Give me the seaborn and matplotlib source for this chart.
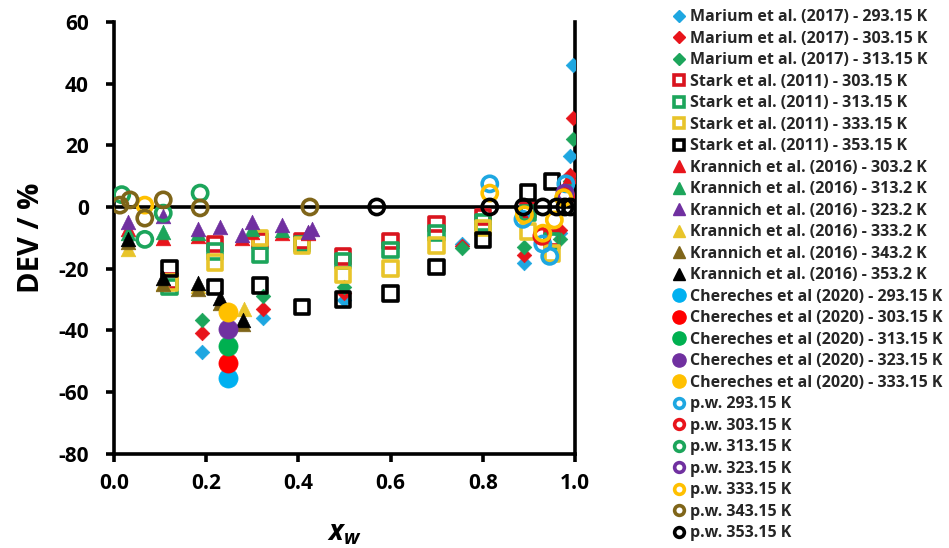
import matplotlib
matplotlib.use("Agg")
import matplotlib.pyplot as plt
from matplotlib.lines import Line2D
import seaborn as sns
import pandas as pd

# ---------------- data ----------------
# Marium et al. (2017), diamonds
marium_x = [0.19, 0.323, 0.50, 0.755, 0.89, 0.967, 0.99, 0.996]
marium_293 = [-47, -36, -30, -12, -18, -8.5, 16.5, 46]
marium_303 = [-41, -33, -28, -12.5, -15.5, -7.5, 10.5, 29]
marium_313 = [-36.5, -29, -26, -13.3, -13, -10.5, 8.5, 22]

# Stark et al. (2011), open squares
stark_x = [0.121, 0.219, 0.317, 0.408, 0.497, 0.60, 0.70, 0.80, 0.898, 0.95]
stark_303 = [-24, -12, -11, -11, -16, -11, -5.5, -3.2, -1, -10]
stark_313 = [-26, -14.5, -15.5, -12, -17.5, -14, -8.5, -5, -2, -11]
stark_333 = [-24.5, -18, -10, -12.5, -22, -20, -12.5, -6.8, -8, -15]
stark_353 = [-20, -26, -25.5, -32.4, -30, -28, -19.4, -10.7, 4.7, 8.3]

# Krannich et al. (2016), triangles
kr_303_x = [0.03, 0.107, 0.183, 0.277, 0.30, 0.364, 0.42, 0.99]
kr_303 = [-7, -10, -9.5, -10, -8, -8.5, -8.5, 10]
kr_313_x = [0.03, 0.107, 0.183, 0.30, 0.364]
kr_313 = [-8.5, -8, -8.5, -7, -7.5]
kr_323_x = [0.03, 0.107, 0.183, 0.23, 0.277, 0.30, 0.364, 0.42, 0.43]
kr_323 = [-5, -3, -7, -6.5, -9, -4.8, -5.8, -8, -7]
kr_333_x = [0.03, 0.107, 0.183, 0.283]
kr_333 = [-13.5, -24.5, -25.5, -33]
kr_343_x = [0.03, 0.107, 0.183, 0.23, 0.28]
kr_343 = [-11.5, -25, -26.5, -31, -38]
kr_353_x = [0.03, 0.107, 0.183, 0.23, 0.28]
kr_353 = [-10.5, -23, -24.5, -29.5, -36.5]

# Chereches et al. (2020), filled circles
ch_x = [0.247]
ch_293 = [-55.5]
ch_303 = [-50.5]
ch_313 = [-45]
ch_323 = [-39.5]
ch_333 = [-34]

# present work, open circles
pw_293_x = [0.815, 0.887, 0.93, 0.945, 0.98]
pw_293 = [7.5, -4, -12, -16, 7.5]
pw_303_x = [0.928, 0.98]
pw_303 = [-9.5, 3.5]
pw_313_x = [0.017, 0.067, 0.107, 0.187]
pw_313 = [4, -10.5, -2, 4.5]
pw_323_x = [0.978]
pw_323 = [4.5]
pw_333_x = [0.067, 0.815, 0.89, 0.93, 0.955, 0.975]
pw_333 = [0.6, 4.5, -2.5, -8.5, -4.2, 3]
pw_343_x = [0.013, 0.035, 0.067, 0.107, 0.187, 0.425]
pw_343 = [0.6, 2.3, -3.6, 2.3, -0.3, 0]
pw_353_x = [0.57, 0.815, 0.888, 0.93, 0.96, 0.978, 0.99]
pw_353 = [0, 0, 0, 0, 0, 0, 0]

# ---------------- styling ----------------
BLUE = "#1EA7E1"
RED = "#E8141B"
GREEN = "#1CA55B"
PURPLE = "#7030A0"
YELLOW = "#FFC000"
SYELLOW = "#E8C42A"
OLIVE = "#7F6519"
BLACK = "#000000"

sns.set_theme(style="white")
plt.rcParams["font.family"] = ["Open Sans", "DejaVu Sans"]
plt.rcParams["axes.unicode_minus"] = False
plt.rcParams["mathtext.fontset"] = "custom"
plt.rcParams["mathtext.it"] = "Open Sans:italic:bold"
plt.rcParams["mathtext.rm"] = "Open Sans:bold"

fig = plt.figure(figsize=(9.49, 5.48), dpi=100)
ax = fig.add_axes([0.120, 0.172, 0.486, 0.788])

# (label, x, y, marker, color, filled, scatter size, legend size)
series = [
    ("Marium et al. (2017) - 293.15 K", marium_x, marium_293, "D", BLUE, True, 55, 6),
    ("Marium et al. (2017) - 303.15 K", marium_x, marium_303, "D", RED, True, 55, 6),
    ("Marium et al. (2017) - 313.15 K", marium_x, marium_313, "D", GREEN, True, 55, 6),
    ("Stark et al. (2011) - 303.15 K", stark_x, stark_303, "s", "#D9141E", False, 110, 8),
    ("Stark et al. (2011) - 313.15 K", stark_x, stark_313, "s", GREEN, False, 110, 8),
    ("Stark et al. (2011) - 333.15 K", stark_x, stark_333, "s", SYELLOW, False, 110, 8),
    ("Stark et al. (2011) - 353.15 K", stark_x, stark_353, "s", BLACK, False, 110, 8),
    ("Krannich et al. (2016) - 303.2 K", kr_303_x, kr_303, "^", RED, True, 110, 8),
    ("Krannich et al. (2016) - 313.2 K", kr_313_x, kr_313, "^", GREEN, True, 110, 8),
    ("Krannich et al. (2016) - 323.2 K", kr_323_x, kr_323, "^", PURPLE, True, 110, 8),
    ("Krannich et al. (2016) - 333.2 K", kr_333_x, kr_333, "^", SYELLOW, True, 110, 8),
    ("Krannich et al. (2016) - 343.2 K", kr_343_x, kr_343, "^", OLIVE, True, 110, 8),
    ("Krannich et al. (2016) - 353.2 K", kr_353_x, kr_353, "^", BLACK, True, 110, 8),
    ("Chereches et al (2020) - 293.15 K", ch_x, ch_293, "o", "#00B0F0", True, 190, 9.5),
    ("Chereches et al (2020) - 303.15 K", ch_x, ch_303, "o", "#FF0000", True, 190, 9.5),
    ("Chereches et al (2020) - 313.15 K", ch_x, ch_313, "o", "#00B050", True, 190, 9.5),
    ("Chereches et al (2020) - 323.15 K", ch_x, ch_323, "o", PURPLE, True, 190, 9.5),
    ("Chereches et al (2020) - 333.15 K", ch_x, ch_333, "o", YELLOW, True, 190, 9.5),
    ("p.w. 293.15 K", pw_293_x, pw_293, "o", BLUE, False, 120, 8.5),
    ("p.w. 303.15 K", pw_303_x, pw_303, "o", RED, False, 120, 8.5),
    ("p.w. 313.15 K", pw_313_x, pw_313, "o", GREEN, False, 120, 8.5),
    ("p.w. 323.15 K", pw_323_x, pw_323, "o", PURPLE, False, 120, 8.5),
    ("p.w. 333.15 K", pw_333_x, pw_333, "o", YELLOW, False, 120, 8.5),
    ("p.w. 343.15 K", pw_343_x, pw_343, "o", OLIVE, False, 120, 8.5),
    ("p.w. 353.15 K", pw_353_x, pw_353, "o", BLACK, False, 120, 8.5),
]

ax.axhline(0, color="black", lw=2.6, zorder=1)

handles, labels = [], []
for label, xs, ys, marker, color, filled, size, lsize in series:
    df = pd.DataFrame({"x": xs, "y": ys})
    if filled:
        sns.scatterplot(data=df, x="x", y="y", ax=ax, marker=marker, s=size,
                        color=color, edgecolor=color, linewidth=0.5,
                        legend=False, zorder=3)
        h = Line2D([], [], ls="none", marker=marker, markersize=lsize,
                   markerfacecolor=color, markeredgecolor=color)
    else:
        sns.scatterplot(data=df, x="x", y="y", ax=ax, marker=marker, s=size,
                        facecolors="none", edgecolor=color, linewidth=2.6,
                        legend=False, zorder=3)
        h = Line2D([], [], ls="none", marker=marker, markersize=lsize - 1.5,
                   markerfacecolor="white", markeredgecolor=color,
                   markeredgewidth=2.6)
    handles.append(h)
    labels.append(label)

ax.set_xlim(0, 1.0)
ax.set_ylim(-80, 60)
ax.set_xticks([0.0, 0.2, 0.4, 0.6, 0.8, 1.0])
ax.set_xticklabels(["0.0", "0.2", "0.4", "0.6", "0.8", "1.0"])
ax.set_yticks(range(-80, 61, 20))

for side in ["left", "bottom", "right"]:
    ax.spines[side].set_visible(True)
    ax.spines[side].set_color("black")
    ax.spines[side].set_linewidth(2.6)
ax.spines["top"].set_visible(False)
ax.grid(False)

ax.tick_params(axis="both", which="major", direction="out", length=6,
               width=2.6, color="black", labelsize=15, pad=8,
               left=True, bottom=True, right=False, top=False)
ax.tick_params(axis="y", pad=12)
for t in ax.get_xticklabels() + ax.get_yticklabels():
    t.set_fontweight("bold")
    t.set_color("black")

ax.set_xlabel(r"$x_w$", fontsize=20, color="black", labelpad=18)
ax.set_ylabel("DEV / %", fontsize=21, fontweight="bold", color="black",
              labelpad=9)

fig.legend(handles, labels, loc="upper left", bbox_to_anchor=(0.702, 0.992),
           frameon=False, labelspacing=0.345,
           handletextpad=0.2, handlelength=1.0, borderaxespad=0.0,
           borderpad=0.3, prop={"weight": "bold", "size": 11.5})

fig.savefig("out.png", dpi=100, facecolor="white")
